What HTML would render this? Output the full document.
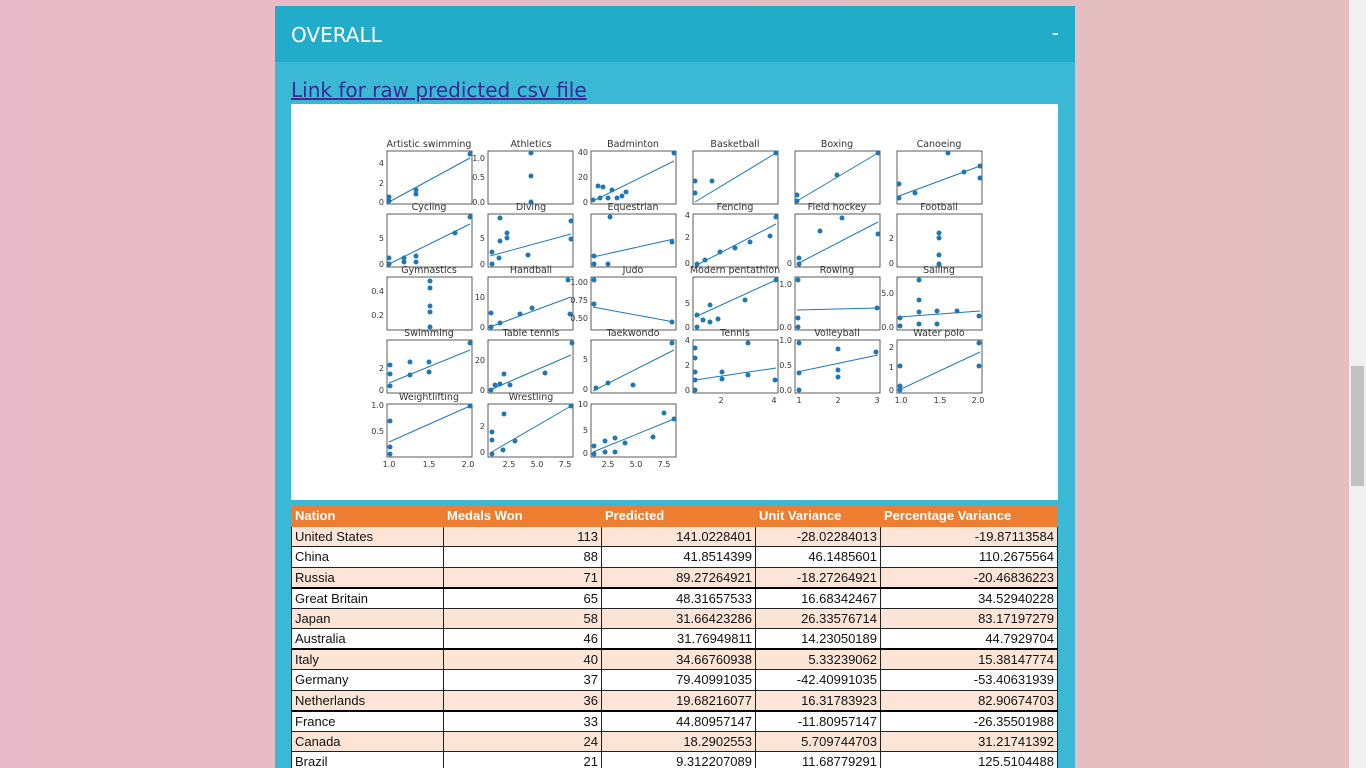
<!DOCTYPE html>
<html><head><meta charset="utf-8"><style>
html,body{margin:0;padding:0;width:1366px;height:768px;overflow:hidden;}
body{background:linear-gradient(90deg,#e9bac9 0%,#e6bcc4 50%,#e3bfbf 100%);position:relative;font-family:"Liberation Sans",sans-serif;}
.sb{position:absolute;left:1349px;top:0;width:17px;height:768px;background:#f0f0f0;}
.thumb{position:absolute;left:1351px;top:366px;width:13px;height:120px;background:#c1c1c1;}
.panel{position:absolute;left:275px;top:6px;width:800px;height:770px;background:#3bb8d4;}
.hdr{height:56px;background:#21acca;color:#fff;font-family:"DejaVu Sans",sans-serif;font-size:20px;line-height:58px;padding-left:16px;position:relative;}
.hdr span{position:absolute;right:16px;top:-2px;}
.link{position:absolute;left:16px;top:72px;font-family:"DejaVu Sans",sans-serif;font-size:20px;color:#3b2a96;text-decoration:underline;}
.img{position:absolute;left:16px;top:98px;width:767px;height:396px;background:#fff;}
table{position:absolute;left:16px;top:499px;width:767px;border-collapse:collapse;font-family:"Liberation Sans Narrow","Liberation Sans",sans-serif;font-size:13px;}
td,th{border:1px solid #222;padding:0 3px;height:19.5px;line-height:17px;white-space:nowrap;box-sizing:border-box;}
tr{height:20.5px;}
th{background:#ed7d31;color:#fff;text-align:left;border-color:#ed7d31;font-weight:bold;}
td{text-align:right;background:#fff;color:#111;}
td:first-child{text-align:left;}
tr.o td{background:#fce4d6;}
tr.t td{border-top:2px solid #000;}
svg text{font-family:"DejaVu Sans",sans-serif;fill:#333;}
</style></head><body>
<div class="sb"></div><div class="thumb"></div>
<div class="panel">
<div class="hdr">OVERALL<span>-</span></div>
<div class="link">Link for raw predicted csv file</div>
<div class="img">
<svg width="767" height="396" viewBox="291 104 767 396" xmlns="http://www.w3.org/2000/svg">
<g fill="none" stroke="#333" stroke-width="0.8">
<rect x="387" y="151" width="85" height="53"/><rect x="488" y="151" width="85" height="53"/><rect x="591" y="151" width="85" height="53"/><rect x="693" y="151" width="85" height="53"/><rect x="795" y="151" width="85" height="53"/><rect x="897" y="151" width="85" height="53"/>
<rect x="387" y="214" width="85" height="53"/><rect x="488" y="214" width="85" height="53"/><rect x="591" y="214" width="85" height="53"/><rect x="693" y="214" width="85" height="53"/><rect x="795" y="214" width="85" height="53"/><rect x="897" y="214" width="85" height="53"/>
<rect x="387" y="277" width="85" height="53"/><rect x="488" y="277" width="85" height="53"/><rect x="591" y="277" width="85" height="53"/><rect x="693" y="277" width="85" height="53"/><rect x="795" y="277" width="85" height="53"/><rect x="897" y="277" width="85" height="53"/>
<rect x="387" y="340" width="85" height="53"/><rect x="488" y="340" width="85" height="53"/><rect x="591" y="340" width="85" height="53"/><rect x="693" y="340" width="85" height="53"/><rect x="795" y="340" width="85" height="53"/><rect x="897" y="340" width="85" height="53"/>
<rect x="387" y="404" width="85" height="53"/><rect x="488" y="404" width="85" height="53"/><rect x="591" y="404" width="85" height="53"/>
</g>
<g stroke="#1f77b4" stroke-width="1">
<line x1="389" y1="202" x2="470" y2="158"/>
<line x1="593" y1="201" x2="674" y2="161"/>
<line x1="695" y1="202" x2="776" y2="153"/>
<line x1="797" y1="201" x2="878" y2="153"/>
<line x1="899" y1="196" x2="980" y2="166"/>
<line x1="389" y1="264" x2="470" y2="224"/>
<line x1="490" y1="256" x2="571" y2="234"/>
<line x1="593" y1="257" x2="674" y2="239"/>
<line x1="695" y1="266" x2="776" y2="224"/>
<line x1="797" y1="264" x2="878" y2="222"/>
<line x1="490" y1="327" x2="571" y2="297"/>
<line x1="593" y1="307" x2="674" y2="322"/>
<line x1="695" y1="317" x2="776" y2="280"/>
<line x1="797" y1="310" x2="878" y2="308"/>
<line x1="899" y1="317" x2="980" y2="311"/>
<line x1="389" y1="383" x2="470" y2="350"/>
<line x1="490" y1="390" x2="571" y2="355"/>
<line x1="593" y1="391" x2="674" y2="350"/>
<line x1="695" y1="380" x2="776" y2="368"/>
<line x1="797" y1="372" x2="878" y2="355"/>
<line x1="899" y1="390" x2="980" y2="352"/>
<line x1="389" y1="442" x2="470" y2="406"/>
<line x1="490" y1="453" x2="571" y2="406"/>
<line x1="593" y1="452" x2="674" y2="419"/>
</g>
<g fill="#1f77b4">
<circle cx="389" cy="201" r="2.5"/><circle cx="389" cy="197" r="2.5"/><circle cx="416" cy="190" r="2.5"/><circle cx="416" cy="194" r="2.5"/><circle cx="470" cy="154" r="2.5"/>
<circle cx="531" cy="153" r="2.5"/><circle cx="531" cy="176" r="2.5"/><circle cx="531" cy="202" r="2.5"/>
<circle cx="593" cy="200" r="2.5"/><circle cx="598" cy="186" r="2.5"/><circle cx="603" cy="187" r="2.5"/><circle cx="600" cy="198" r="2.5"/><circle cx="608" cy="198" r="2.5"/><circle cx="612" cy="190" r="2.5"/><circle cx="617" cy="198" r="2.5"/><circle cx="622" cy="196" r="2.5"/><circle cx="626" cy="192" r="2.5"/><circle cx="674" cy="153" r="2.5"/>
<circle cx="695" cy="181" r="2.5"/><circle cx="712" cy="181" r="2.5"/><circle cx="695" cy="193" r="2.5"/><circle cx="776" cy="153" r="2.5"/>
<circle cx="797" cy="195" r="2.5"/><circle cx="797" cy="201" r="2.5"/><circle cx="837" cy="175" r="2.5"/><circle cx="878" cy="153" r="2.5"/>
<circle cx="899" cy="184" r="2.5"/><circle cx="899" cy="198" r="2.5"/><circle cx="915" cy="193" r="2.5"/><circle cx="948" cy="153" r="2.5"/><circle cx="964" cy="172" r="2.5"/><circle cx="980" cy="166" r="2.5"/><circle cx="980" cy="178" r="2.5"/>
<circle cx="389" cy="264" r="2.5"/><circle cx="389" cy="258" r="2.5"/><circle cx="404" cy="258" r="2.5"/><circle cx="404" cy="262" r="2.5"/><circle cx="416" cy="256" r="2.5"/><circle cx="416" cy="262" r="2.5"/><circle cx="455" cy="233" r="2.5"/><circle cx="470" cy="217" r="2.5"/>
<circle cx="492" cy="264" r="2.5"/><circle cx="492" cy="252" r="2.5"/><circle cx="499" cy="258" r="2.5"/><circle cx="500" cy="218" r="2.5"/><circle cx="500" cy="241" r="2.5"/><circle cx="507" cy="233" r="2.5"/><circle cx="507" cy="238" r="2.5"/><circle cx="528" cy="255" r="2.5"/><circle cx="571" cy="221" r="2.5"/><circle cx="571" cy="239" r="2.5"/>
<circle cx="594" cy="264" r="2.5"/><circle cx="594" cy="256" r="2.5"/><circle cx="608" cy="264" r="2.5"/><circle cx="610" cy="217" r="2.5"/><circle cx="672" cy="242" r="2.5"/>
<circle cx="697" cy="264" r="2.5"/><circle cx="705" cy="260" r="2.5"/><circle cx="720" cy="252" r="2.5"/><circle cx="735" cy="248" r="2.5"/><circle cx="750" cy="242" r="2.5"/><circle cx="770" cy="236" r="2.5"/><circle cx="776" cy="217" r="2.5"/>
<circle cx="799" cy="264" r="2.5"/><circle cx="799" cy="258" r="2.5"/><circle cx="820" cy="231" r="2.5"/><circle cx="842" cy="218" r="2.5"/><circle cx="878" cy="234" r="2.5"/>
<circle cx="939" cy="233" r="2.5"/><circle cx="939" cy="238" r="2.5"/><circle cx="939" cy="255" r="2.5"/><circle cx="939" cy="264" r="2.5"/>
<circle cx="430" cy="281" r="2.5"/><circle cx="430" cy="288" r="2.5"/><circle cx="430" cy="306" r="2.5"/><circle cx="430" cy="312" r="2.5"/><circle cx="430" cy="327" r="2.5"/>
<circle cx="491" cy="327" r="2.5"/><circle cx="491" cy="313" r="2.5"/><circle cx="500" cy="323" r="2.5"/><circle cx="520" cy="314" r="2.5"/><circle cx="532" cy="308" r="2.5"/><circle cx="568" cy="280" r="2.5"/><circle cx="570" cy="314" r="2.5"/>
<circle cx="594" cy="280" r="2.5"/><circle cx="594" cy="304" r="2.5"/><circle cx="672" cy="322" r="2.5"/>
<circle cx="697" cy="327" r="2.5"/><circle cx="697" cy="315" r="2.5"/><circle cx="703" cy="320" r="2.5"/><circle cx="710" cy="305" r="2.5"/><circle cx="710" cy="322" r="2.5"/><circle cx="718" cy="319" r="2.5"/><circle cx="745" cy="300" r="2.5"/><circle cx="776" cy="280" r="2.5"/>
<circle cx="798" cy="280" r="2.5"/><circle cx="798" cy="318" r="2.5"/><circle cx="798" cy="327" r="2.5"/><circle cx="877" cy="308" r="2.5"/>
<circle cx="900" cy="318" r="2.5"/><circle cx="900" cy="326" r="2.5"/><circle cx="919" cy="280" r="2.5"/><circle cx="919" cy="300" r="2.5"/><circle cx="919" cy="312" r="2.5"/><circle cx="919" cy="324" r="2.5"/><circle cx="937" cy="311" r="2.5"/><circle cx="937" cy="324" r="2.5"/><circle cx="957" cy="311" r="2.5"/><circle cx="979" cy="316" r="2.5"/>
<circle cx="390" cy="365" r="2.5"/><circle cx="390" cy="374" r="2.5"/><circle cx="390" cy="386" r="2.5"/><circle cx="410" cy="362" r="2.5"/><circle cx="410" cy="375" r="2.5"/><circle cx="429" cy="362" r="2.5"/><circle cx="429" cy="372" r="2.5"/><circle cx="470" cy="343" r="2.5"/>
<circle cx="491" cy="390" r="2.5"/><circle cx="495" cy="385" r="2.5"/><circle cx="500" cy="384" r="2.5"/><circle cx="504" cy="374" r="2.5"/><circle cx="510" cy="385" r="2.5"/><circle cx="545" cy="373" r="2.5"/><circle cx="572" cy="343" r="2.5"/>
<circle cx="596" cy="388" r="2.5"/><circle cx="608" cy="383" r="2.5"/><circle cx="633" cy="385" r="2.5"/><circle cx="672" cy="343" r="2.5"/>
<circle cx="695" cy="390" r="2.5"/><circle cx="695" cy="380" r="2.5"/><circle cx="695" cy="372" r="2.5"/><circle cx="695" cy="358" r="2.5"/><circle cx="695" cy="348" r="2.5"/><circle cx="722" cy="372" r="2.5"/><circle cx="722" cy="379" r="2.5"/><circle cx="748" cy="343" r="2.5"/><circle cx="748" cy="375" r="2.5"/><circle cx="775" cy="380" r="2.5"/>
<circle cx="799" cy="390" r="2.5"/><circle cx="799" cy="373" r="2.5"/><circle cx="799" cy="343" r="2.5"/><circle cx="838" cy="349" r="2.5"/><circle cx="838" cy="370" r="2.5"/><circle cx="838" cy="377" r="2.5"/><circle cx="876" cy="352" r="2.5"/>
<circle cx="900" cy="390" r="2.5"/><circle cx="900" cy="386" r="2.5"/><circle cx="900" cy="366" r="2.5"/><circle cx="979" cy="343" r="2.5"/><circle cx="979" cy="366" r="2.5"/>
<circle cx="390" cy="454" r="2.5"/><circle cx="390" cy="447" r="2.5"/><circle cx="390" cy="421" r="2.5"/><circle cx="470" cy="406" r="2.5"/>
<circle cx="492" cy="454" r="2.5"/><circle cx="492" cy="440" r="2.5"/><circle cx="492" cy="432" r="2.5"/><circle cx="503" cy="450" r="2.5"/><circle cx="504" cy="414" r="2.5"/><circle cx="515" cy="441" r="2.5"/><circle cx="571" cy="406" r="2.5"/>
<circle cx="594" cy="454" r="2.5"/><circle cx="594" cy="446" r="2.5"/><circle cx="605" cy="441" r="2.5"/><circle cx="605" cy="452" r="2.5"/><circle cx="615" cy="438" r="2.5"/><circle cx="615" cy="452" r="2.5"/><circle cx="625" cy="443" r="2.5"/><circle cx="653" cy="437" r="2.5"/><circle cx="664" cy="413" r="2.5"/><circle cx="674" cy="419" r="2.5"/>
</g>
<g font-size="9.5" text-anchor="middle">
<text x="429" y="147">Artistic swimming</text><text x="531" y="147">Athletics</text><text x="633" y="147">Badminton</text><text x="735" y="147">Basketball</text><text x="837" y="147">Boxing</text><text x="939" y="147">Canoeing</text>
<text x="429" y="210">Cycling</text><text x="531" y="210">Diving</text><text x="633" y="210">Equestrian</text><text x="735" y="210">Fencing</text><text x="837" y="210">Field hockey</text><text x="939" y="210">Football</text>
<text x="429" y="273">Gymnastics</text><text x="531" y="273">Handball</text><text x="633" y="273">Judo</text><text x="735" y="273">Modern pentathlon</text><text x="837" y="273">Rowing</text><text x="939" y="273">Sailing</text>
<text x="429" y="336">Swimming</text><text x="531" y="336">Table tennis</text><text x="633" y="336">Taekwondo</text><text x="735" y="336">Tennis</text><text x="837" y="336">Volleyball</text><text x="939" y="336">Water polo</text>
<text x="429" y="400">Weightlifting</text><text x="531" y="400">Wrestling</text>
</g>
<g font-size="8" text-anchor="end">
<text x="384" y="166">4</text><text x="384" y="186">2</text><text x="384" y="205">0</text>
<text x="485" y="161">1.0</text><text x="485" y="180">0.5</text><text x="485" y="205">0.0</text>
<text x="588" y="155">40</text><text x="588" y="180">20</text><text x="588" y="205">0</text>
<text x="384" y="241">5</text><text x="384" y="267">0</text><text x="485" y="241">5</text><text x="485" y="267">0</text>
<text x="384" y="294">0.4</text><text x="384" y="318">0.2</text><text x="485" y="300">10</text><text x="485" y="330">0</text>
<text x="588" y="285">1.00</text><text x="588" y="303">0.75</text><text x="588" y="321">0.50</text>
<text x="384" y="371">2</text><text x="384" y="393">0</text><text x="485" y="363">20</text><text x="485" y="393">0</text>
<text x="588" y="362">5</text><text x="588" y="392">0</text>
<text x="384" y="408">1.0</text><text x="384" y="434">0.5</text><text x="485" y="429">2</text><text x="485" y="455">0</text>
<text x="588" y="407">10</text><text x="588" y="433">5</text><text x="588" y="456">0</text>
<text x="690" y="343">4</text><text x="690" y="368">2</text><text x="690" y="393">0</text>
<text x="792" y="343">1.0</text><text x="792" y="368">0.5</text><text x="792" y="393">0.0</text>
<text x="894" y="350">2</text><text x="894" y="370">1</text><text x="894" y="393">0</text>
<text x="690" y="218">4</text><text x="690" y="240">2</text><text x="690" y="266">0</text>
<text x="792" y="266">0</text><text x="894" y="241">2</text><text x="894" y="266">0</text>
<text x="690" y="306">5</text><text x="690" y="330">0</text><text x="792" y="287">1.0</text><text x="792" y="330">0.0</text>
<text x="894" y="296">5.0</text><text x="894" y="330">0.0</text>
</g>
<g font-size="8" text-anchor="middle">
<text x="389" y="467">1.0</text><text x="429" y="467">1.5</text><text x="468" y="467">2.0</text>
<text x="509" y="467">2.5</text><text x="537" y="467">5.0</text><text x="565" y="467">7.5</text>
<text x="608" y="467">2.5</text><text x="636" y="467">5.0</text><text x="664" y="467">7.5</text>
<text x="721" y="403">2</text><text x="774" y="403">4</text><text x="799" y="403">1</text><text x="838" y="403">2</text><text x="877" y="403">3</text>
<text x="901" y="403">1.0</text><text x="940" y="403">1.5</text><text x="978" y="403">2.0</text>
</g>
</svg>
</div>
<table>
<tr><th style="width:152px">Nation</th><th style="width:158px">Medals Won</th><th style="width:154px">Predicted</th><th style="width:125px">Unit Variance</th><th>Percentage Variance</th></tr>
<tr class="o"><td>United States</td><td>113</td><td>141.0228401</td><td>-28.02284013</td><td>-19.87113584</td></tr>
<tr><td>China</td><td>88</td><td>41.8514399</td><td>46.1485601</td><td>110.2675564</td></tr>
<tr class="o"><td>Russia</td><td>71</td><td>89.27264921</td><td>-18.27264921</td><td>-20.46836223</td></tr>
<tr class="t"><td>Great Britain</td><td>65</td><td>48.31657533</td><td>16.68342467</td><td>34.52940228</td></tr>
<tr class="o"><td>Japan</td><td>58</td><td>31.66423286</td><td>26.33576714</td><td>83.17197279</td></tr>
<tr><td>Australia</td><td>46</td><td>31.76949811</td><td>14.23050189</td><td>44.7929704</td></tr>
<tr class="o t"><td>Italy</td><td>40</td><td>34.66760938</td><td>5.33239062</td><td>15.38147774</td></tr>
<tr><td>Germany</td><td>37</td><td>79.40991035</td><td>-42.40991035</td><td>-53.40631939</td></tr>
<tr class="o"><td>Netherlands</td><td>36</td><td>19.68216077</td><td>16.31783923</td><td>82.90674703</td></tr>
<tr class="t"><td>France</td><td>33</td><td>44.80957147</td><td>-11.80957147</td><td>-26.35501988</td></tr>
<tr class="o"><td>Canada</td><td>24</td><td>18.2902553</td><td>5.709744703</td><td>31.21741392</td></tr>
<tr><td>Brazil</td><td>21</td><td>9.312207089</td><td>11.68779291</td><td>125.5104488</td></tr>
</table>
</div>
</body></html>
